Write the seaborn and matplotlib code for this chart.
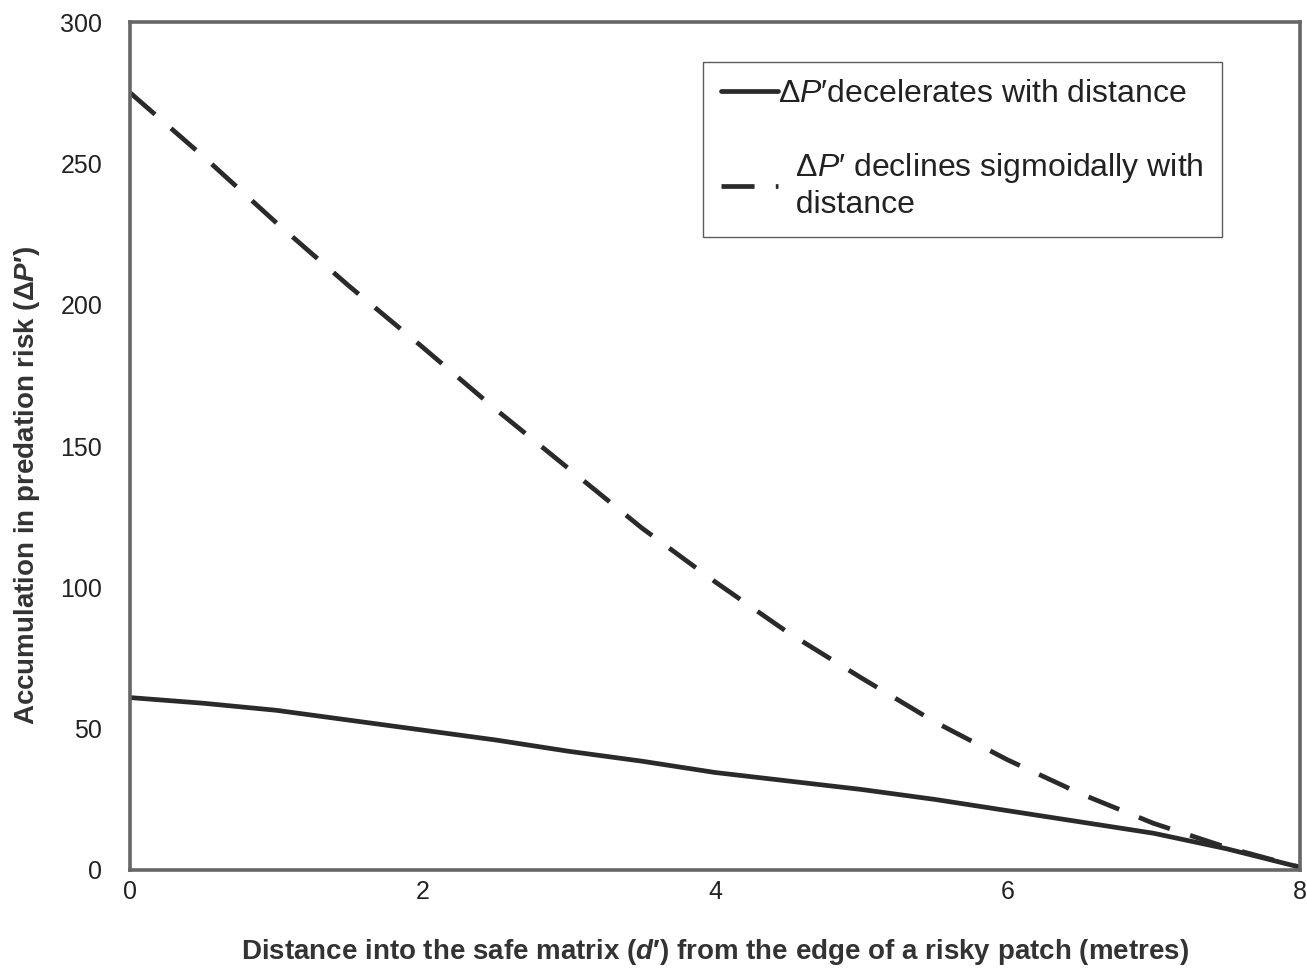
import numpy as np
import pandas as pd
import matplotlib
matplotlib.use("Agg")
import matplotlib.pyplot as plt
import seaborn as sns

# Data
distance = [0, 0.5, 1, 1.5, 2, 2.5, 3, 3.5, 4, 4.5, 5, 5.5, 6, 6.5, 7, 7.5, 8]
decelerates = [61, 59, 56.5, 53, 49.5, 46, 42, 38.5, 34.5, 31.5, 28.5, 25, 21, 17, 13, 7.5, 1]
sigmoidal = [275, 252.5, 229, 206.5, 185, 163, 142, 121, 102, 84, 68, 52.5, 39, 27, 16.5, 8, 1]

label_a = r"$\Delta$$\it{P}$" + "\u2032decelerates with distance"
label_b = r"  $\Delta$$\it{P}$" + "\u2032 declines sigmoidally with\n  distance"

df = pd.DataFrame({
    "d": distance * 2,
    "risk": decelerates + sigmoidal,
    "model": [label_a] * len(distance) + [label_b] * len(distance),
})

sns.set_theme(style="white")
plt.rcParams["font.family"] = ["Liberation Sans", "DejaVu Sans"]
plt.rcParams["mathtext.fontset"] = "custom"
plt.rcParams["mathtext.rm"] = "Liberation Sans"
plt.rcParams["mathtext.it"] = "Liberation Sans:italic"
plt.rcParams["mathtext.bf"] = "Liberation Sans:bold"
plt.rcParams["mathtext.bfit"] = "Liberation Sans:italic:bold"

fig = plt.figure(figsize=(13.07, 9.75), dpi=100)
ax = fig.add_axes([0.0995, 0.1077, 0.895, 0.8697])

sns.lineplot(
    data=df, x="d", y="risk", hue="model", style="model",
    palette=["#2a2a2a", "#2a2a2a"],
    dashes={label_a: "", label_b: (7.0, 4.5)},
    linewidth=3.4, ax=ax, legend=True,
)

ax.set_xlim(0, 8)
ax.set_ylim(0, 300)
ax.set_xticks([0, 2, 4, 6, 8])
ax.set_yticks([0, 50, 100, 150, 200, 250, 300])
ax.tick_params(axis="both", which="both", direction="out", length=6, width=1,
               color="#333333", labelsize=18, labelcolor="#222222")
ax.tick_params(axis="x", pad=1)
ax.tick_params(axis="y", pad=14)

for s in ax.spines.values():
    s.set_visible(True)
    s.set_color("#666666")
    s.set_linewidth(2.6)

ax.set_xlabel(r"Distance into the safe matrix ($\mathbfit{d}$" + "\u2032) from the edge of a risky patch (metres)",
              fontsize=20, fontweight="bold", color="#333333", labelpad=24)
ax.set_ylabel(r"Accumulation in predation risk ($\mathbf{\Delta}$$\mathbfit{P}$" + "\u2032)",
              fontsize=20, fontweight="bold", color="#333333")
ax.yaxis.set_label_coords(-0.075, 0.453)

leg = ax.legend(
    loc="upper left", bbox_to_anchor=(0.49, 0.953),
    fontsize=23, frameon=True, fancybox=False, edgecolor="#333333",
    handlelength=1.8, handletextpad=0.0, borderpad=0.55, labelspacing=1.3,
    borderaxespad=0,
)
leg.get_frame().set_linewidth(1.0)
leg.set_title(None)
for t in leg.get_texts():
    t.set_color("#222222")

fig.savefig("out.png", dpi=100)
